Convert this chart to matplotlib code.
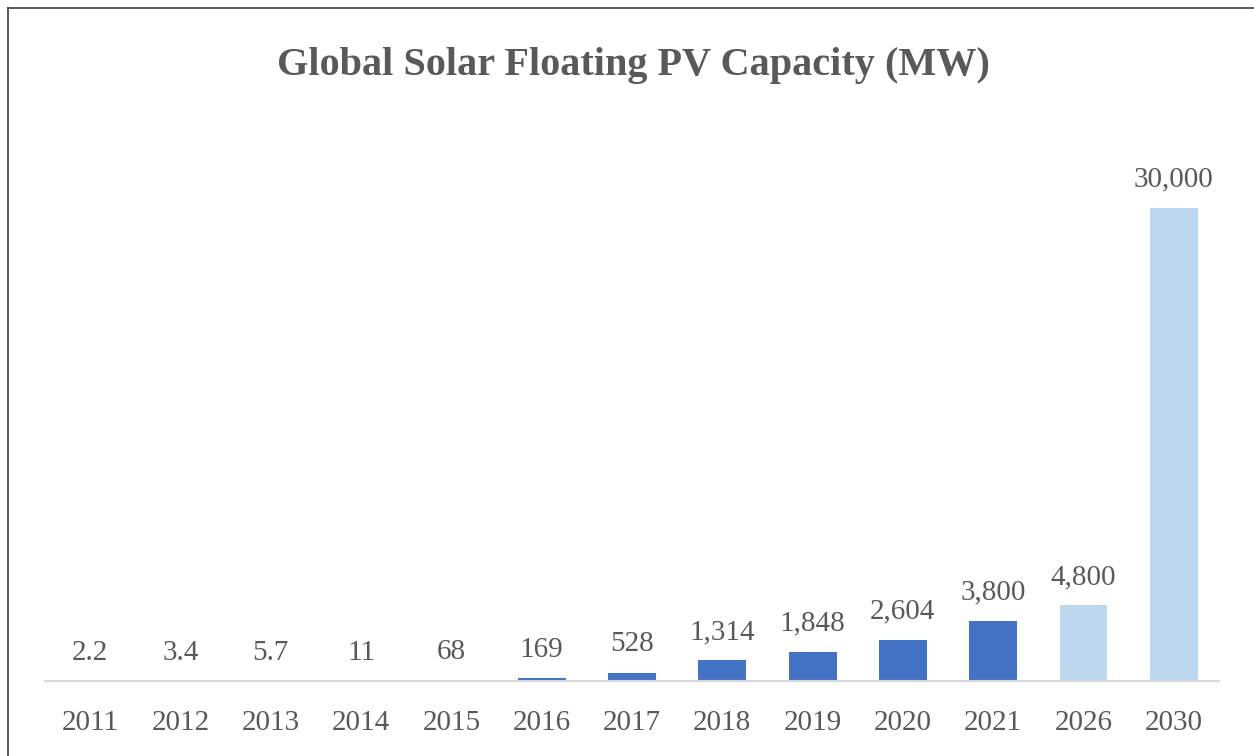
import numpy as np
import matplotlib.pyplot as plt
from matplotlib.lines import Line2D

years = ['2011', '2012', '2013', '2014', '2015', '2016', '2017',
         '2018', '2019', '2020', '2021', '2026', '2030']
capacity = [2.2, 3.4, 5.7, 11, 68, 169, 528, 1314, 1848, 2604, 3800, 4800, 30000]
labels = ['2.2', '3.4', '5.7', '11', '68', '169', '528', '1,314', '1,848',
          '2,604', '3,800', '4,800', '30,000']
forecast = [False] * 11 + [True, True]

dark = '#4472C4'
light = '#BDD7EE'
text_col = '#595959'

plt.rcParams['font.family'] = ['Liberation Serif', 'DejaVu Serif']

fig = plt.figure(figsize=(12.54, 7.56), dpi=100)
ax = fig.add_axes([45 / 1254, 75 / 756, 1174 / 1254, 552 / 756])

x = np.arange(len(years))
colors = [light if f else dark for f in forecast]
bars = ax.bar(x, capacity, width=0.53, color=colors)

for b, lab in zip(bars, labels):
    ax.annotate(lab, (b.get_x() + b.get_width() / 2, b.get_height()),
                xytext=(0, 11), textcoords='offset points',
                ha='center', va='bottom', fontsize=21, color=text_col)

ax.set_xlim(-0.5, len(years) - 0.5)
ax.set_ylim(0, 35000)
ax.set_xticks(x)
ax.set_xticklabels(years, fontsize=21, color=text_col)
ax.tick_params(axis='x', length=0, pad=21)
ax.set_yticks([])
for s in ['top', 'right', 'left']:
    ax.spines[s].set_visible(False)
ax.spines['bottom'].set_color('#D9D9D9')
ax.spines['bottom'].set_linewidth(1.5)

fig.text(633 / 1254, 1 - 65 / 756, 'Global Solar Floating PV Capacity (MW)',
         ha='center', va='center', fontsize=29, fontweight='bold', color=text_col)

# outer frame (top and left edges visible)
fig.add_artist(Line2D([8 / 1254, 1], [1 - 8 / 756, 1 - 8 / 756],
                      transform=fig.transFigure, color='#404040', lw=1.2))
fig.add_artist(Line2D([8 / 1254, 8 / 1254], [0, 1 - 8 / 756],
                      transform=fig.transFigure, color='#404040', lw=1.2))

plt.savefig('out.png', dpi=100)
